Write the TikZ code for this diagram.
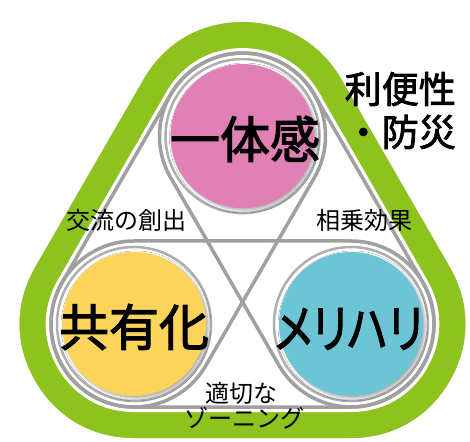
\documentclass[tikz,border=0pt]{standalone}
\usepackage{fontspec}
\usetikzlibrary{shadows.blur}
\newfontfamily\jp{Noto Sans CJK JP}
\newfontfamily\jpm[FakeBold=2.2]{Noto Sans CJK JP}
\newfontfamily\jpmp[FakeBold=2.2,RawFeature=+palt]{Noto Sans CJK JP}
\definecolor{greenc}{RGB}{141,194,31}
\definecolor{pinkc}{RGB}{224,128,180}
\definecolor{yellowc}{RGB}{252,212,92}
\definecolor{bluec}{RGB}{108,197,212}
\definecolor{lineg}{RGB}{160,160,160}
\tikzset{
  grayline/.style={draw=lineg, line width=3.5pt},
  ringline/.style={draw=lineg!85, line width=2.5pt},
  disc/.style={circle, minimum size=144pt, inner sep=0pt,
    blur shadow={shadow xshift=2pt, shadow yshift=-2pt, shadow blur steps=6, shadow blur radius=3pt, shadow opacity=35}},
  bigtext/.style={inner sep=0pt, font=\jpm\fontsize{50}{50}\selectfont},
  midtext/.style={inner sep=0pt, font=\jpm\fontsize{37}{37}\selectfont},
  smalltext/.style={inner sep=0pt, font=\jp\fontsize{24}{24}\selectfont},
  band/.style={line join=round},
}
\newcommand\mycapsule[2]{%
  \begin{scope}[shift={#1}, rotate=#2]
    \draw[grayline] (0,83) -- (217,83) arc[start angle=90, end angle=-90, radius=83]
      -- (0,-83) arc[start angle=270, end angle=90, radius=83] -- cycle;
  \end{scope}}
\begin{document}
\begin{tikzpicture}[x=1pt, y=1pt]
  \useasboundingbox (0,0) rectangle (470,441);
  \coordinate (L) at (134,117);
  \coordinate (R) at (351,117);
  \coordinate (T) at (242.5,304.9);
  % shadow of green band
  \begin{scope}[shift={(4,-4)}]
    \filldraw[black, opacity=0.12, band, line width=228pt] (L) -- (R) -- (T) -- cycle;
  \end{scope}
  \begin{scope}[shift={(2,-2)}]
    \filldraw[black, opacity=0.12, band, line width=228pt] (L) -- (R) -- (T) -- cycle;
  \end{scope}
  % green band
  \filldraw[greenc, band, line width=228pt] (L) -- (R) -- (T) -- cycle;
  \filldraw[white, band, line width=176pt] (L) -- (R) -- (T) -- cycle;
  % capsules
  \mycapsule{(134,117)}{0}
  \mycapsule{(134,117)}{60}
  \mycapsule{(351,117)}{120}
  % rings and discs
  \draw[ringline] (T) circle[radius=77];
  \draw[ringline] (L) circle[radius=77];
  \draw[ringline] (R) circle[radius=77];
  \node[disc, fill=pinkc] (ctop) at (T) {};
  \node[disc, fill=yellowc] (cleft) at (L) {};
  \node[disc, fill=bluec] (cright) at (R) {};
  % texts
  \node[bigtext] (t1) at (245,302) {一体感};
  \node[bigtext] (t2) at (134,114) {共有化};
  \node[bigtext, font=\jpmp\fontsize{52}{52}\selectfont, xscale=0.82, transform shape] (t3) at (349,112) {メリハリ};
  \node[midtext, anchor=east] (r1) at (456,352) {利便性};
  \node[midtext, anchor=east] (r2) at (456,309) {・防災};
  \node[smalltext] (s1) at (126,221) {交流の創出};
  \node[smalltext] (s2) at (364,221) {相乗効果};
  \node[smalltext] (s3) at (241,48) {適切な};
  \node[smalltext] (s4) at (244,23) {ゾーニング};
\end{tikzpicture}
\end{document}
